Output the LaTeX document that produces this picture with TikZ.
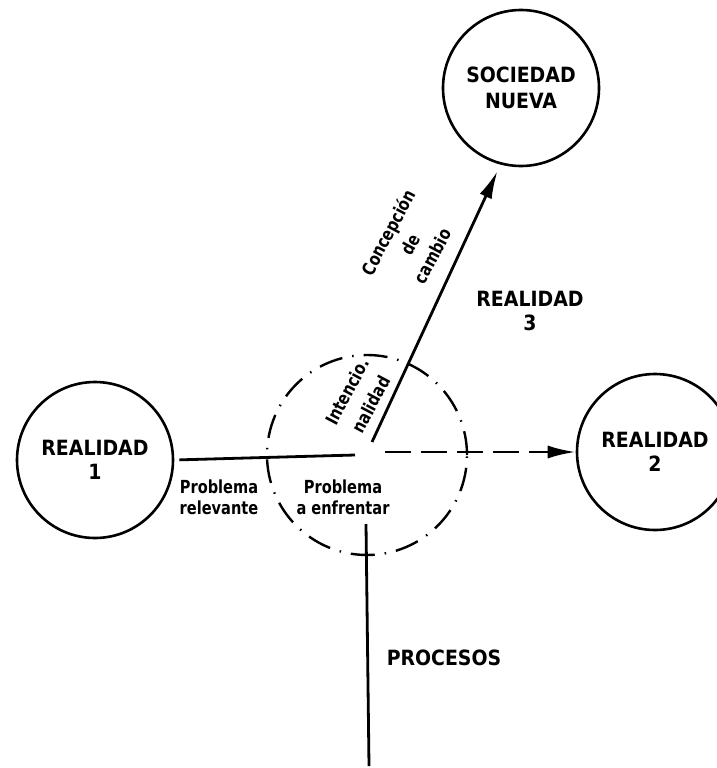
\documentclass[tikz,border=0pt]{standalone}
\usepackage{fontspec}
\setmainfont{DejaVu Sans Condensed}
\newfontfamily\narrowf{DejaVu Sans Condensed}[FakeStretch=0.9]
\usetikzlibrary{arrows.meta}
\begin{document}
\begin{tikzpicture}[x=1pt,y=-1pt,
  big/.style={font=\bfseries\fontsize{21}{24}\selectfont, align=center, inner sep=0pt},
  small/.style={font=\narrowf\bfseries\fontsize{18}{21}\selectfont, align=center, inner sep=0pt},
  ring/.style={draw, circle, line width=2.6pt, minimum size=156pt, inner sep=0pt},
  lineA/.style={line width=2.8pt},
  dashring/.style={draw, circle, line width=2.4pt, minimum size=200pt, inner sep=0pt,
     dash pattern=on 24pt off 10pt on 1.5pt off 10pt},
  longdash/.style={dash pattern=on 26pt off 10pt},
  tip/.style={-{Latex[length=28pt,width=13pt]}}
]
\useasboundingbox[fill=white] (0,0) rectangle (716,768);

\node[ring, big] (r1) at (95,460) {REALIDAD\\1};
\node[ring, big] (r2) at (655,452) {REALIDAD\\2};
\node[ring, big, font=\bfseries\fontsize{21}{26}\selectfont] (sn) at (521,88) {SOCIEDAD\\NUEVA};
\node[dashring] (dc) at (367,455) {};

\node[big] (r3) at (530,311) {REALIDAD\\3};
\node[big] (proc) at (444,658) {PROCESOS};

\node[small] (pr) at (219,497) {Problema\\relevante};
\node[small] (pe) at (343,497) {Problema\\a enfrentar};
\node[small, rotate=62, font=\narrowf\bfseries\fontsize{18}{27}\selectfont] (int) at (359,398) {Intencio.\\nalidad};
\node[small, rotate=62, font=\narrowf\bfseries\fontsize{18}{25}\selectfont] (conc) at (410,244) {Concepción\\de\\cambio};

\coordinate (h1) at (355,455);
\coordinate (h2) at (385,452);
\coordinate (d0) at (372,442);
\coordinate (v0) at (366,524);
\coordinate (v1) at (369,766);

\draw[lineA, shorten <=5pt] (r1.east) -- (h1);
\draw[lineA, longdash, tip] (h2) -- (r2.west);
\draw[lineA, tip, shorten >=7pt] (d0) -- (sn.255);
\draw[lineA] (v0) -- (v1);
\end{tikzpicture}
\end{document}
